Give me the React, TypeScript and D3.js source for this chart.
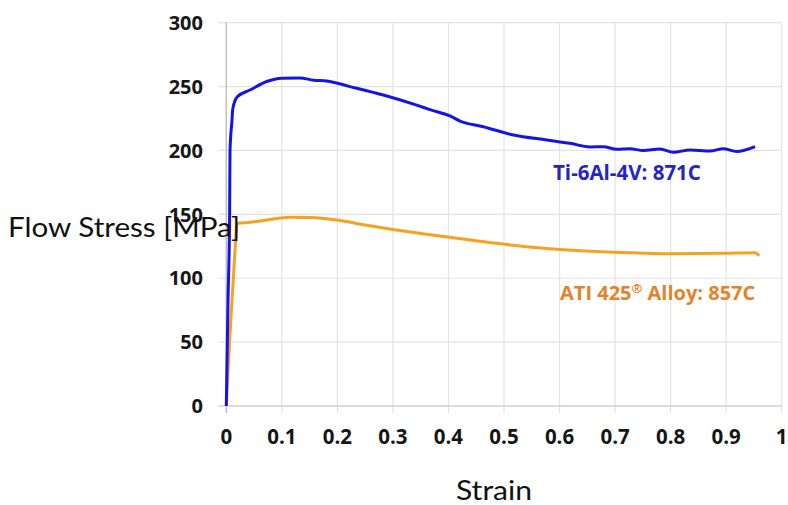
import * as d3 from "d3";
import { useEffect, useRef } from "react";

// Ti-6Al-4V: 871C (strain, stress MPa)
const tiStrain = [0, 0.003, 0.006, 0.0067, 0.0103, 0.0115, 0.0198, 0.0427, 0.0727, 0.0997, 0.1327, 0.157, 0.1807, 0.2227, 0.2827, 0.3428, 0.3667, 0.4028, 0.4208, 0.4628, 0.5168, 0.5769, 0.6188, 0.6548, 0.6788, 0.7029, 0.7269, 0.7508, 0.7809, 0.8048, 0.8349, 0.8709, 0.8949, 0.919, 0.952];
const tiStress = [0, 80, 151, 200, 224, 232, 242, 247.3, 254, 256.6, 256.8, 255, 254.4, 250, 243.4, 235.5, 232, 227, 223, 218.6, 212.1, 208.2, 205.6, 202.8, 203, 200.9, 201.4, 199.9, 201.1, 198.6, 200.4, 199.6, 201.4, 199.2, 203];

// ATI 425 Alloy: 857C
const atiStrain = [0, 0.0067, 0.0139, 0.0198, 0.0427, 0.0727, 0.1147, 0.1507, 0.1988, 0.2528, 0.3128, 0.3667, 0.4028, 0.4868, 0.5949, 0.6968, 0.7989, 0.8949, 0.952, 0.9597];
const atiStress = [0, 56.9, 109, 143, 143.8, 145.6, 147.7, 147.5, 145.6, 141.5, 137.3, 134, 132, 127.3, 122.6, 120.3, 119.2, 119.5, 120, 117.6];

const xTicks = [0, 0.1, 0.2, 0.3, 0.4, 0.5, 0.6, 0.7, 0.8, 0.9, 1];
const yTicks = [0, 50, 100, 150, 200, 250, 300];

const draw = (el: SVGSVGElement) => {
  const svg = d3.select(el);
  svg.selectAll("*").remove();

  let plot = { x1: 226.3, y1: 22.7, x2: 781.7, y2: 406 };
  let xScale = d3.scaleLinear().domain([0, 1]).range([plot.x1, plot.x2]);
  let yScale = d3.scaleLinear().domain([0, 300]).range([plot.y2, plot.y1]);

  const grid = svg.append("g");
  grid.selectAll("line.v").data(xTicks.slice(1)).enter().append("line")
    .attr("x1", d => xScale(d)).attr("x2", d => xScale(d))
    .attr("y1", plot.y1).attr("y2", plot.y2 + 7)
    .attr("stroke", "#e3e3e3").attr("stroke-width", 1.2);
  grid.selectAll("line.h").data(yTicks.slice(1)).enter().append("line")
    .attr("x1", plot.x1 - 8).attr("x2", plot.x2)
    .attr("y1", d => yScale(d)).attr("y2", d => yScale(d))
    .attr("stroke", "#e3e3e3").attr("stroke-width", 1.2);

  // axes
  svg.append("line").attr("x1", plot.x1).attr("x2", plot.x1).attr("y1", plot.y1).attr("y2", plot.y2 + 7)
    .attr("stroke", "#c0c0c0").attr("stroke-width", 1.5);
  svg.append("line").attr("x1", plot.x1 - 8).attr("x2", plot.x2).attr("y1", plot.y2).attr("y2", plot.y2)
    .attr("stroke", "#d0d0d0").attr("stroke-width", 1.5);

  const tickFont = "'Open Sans', sans-serif";
  svg.append("g").selectAll("text").data(yTicks).enter().append("text")
    .attr("x", 203).attr("y", d => yScale(d)).attr("dy", "0.36em")
    .attr("text-anchor", "end").attr("font-family", tickFont).attr("font-weight", 700)
    .attr("font-size", 20).attr("fill", "#161616")
    .text(d => d);
  svg.append("g").selectAll("text").data(xTicks).enter().append("text")
    .attr("x", d => xScale(d)).attr("y", 444)
    .attr("text-anchor", "middle").attr("font-family", tickFont).attr("font-weight", 700)
    .attr("font-size", 20.5).attr("fill", "#161616")
    .text(d => d);

  const line = d3.line<[number, number]>().x(d => xScale(d[0])).y(d => yScale(d[1])).curve(d3.curveMonotoneX);

  svg.append("path").datum(atiStrain.map((s, i) => [s, atiStress[i]] as [number, number]))
    .attr("d", line).attr("fill", "none").attr("stroke", "#f6a21e").attr("stroke-width", 3);
  svg.append("path").datum(tiStrain.map((s, i) => [s, tiStress[i]] as [number, number]))
    .attr("d", line)
    .attr("fill", "none").attr("stroke", "#1414e6").attr("stroke-width", 3);

  svg.append("text").attr("x", 553).attr("y", 180).attr("font-family", tickFont).attr("font-weight", 700)
    .attr("font-size", 20.5).attr("fill", "#2424c8").text("Ti-6Al-4V: 871C");
  const ati = svg.append("text").attr("x", 560).attr("y", 300).attr("font-family", tickFont).attr("font-weight", 700)
    .attr("font-size", 20).attr("fill", "#e3822a");
  ati.append("tspan").text("ATI 425");
  ati.append("tspan").attr("font-size", 13).attr("dy", -7).text("®");
  ati.append("tspan").attr("dy", 7).text(" Alloy: 857C");

  const titleFont = "Lato, sans-serif";
  svg.append("text").attr("x", 8).attr("y", 237).attr("font-family", titleFont)
    .attr("font-size", 27).attr("fill", "#111")
    .attr("textLength", 232).attr("lengthAdjust", "spacingAndGlyphs").text("Flow Stress [MPa]");
  svg.append("text").attr("x", 456).attr("y", 500).attr("font-family", titleFont)
    .attr("font-size", 26).attr("fill", "#111")
    .attr("textLength", 76).attr("lengthAdjust", "spacingAndGlyphs").text("Strain");
};

export default function App() {
  const ref = useRef<SVGSVGElement>(null);
  useEffect(() => {
    if (ref.current) draw(ref.current);
  }, []);
  return (
    <svg ref={ref} width={788} height={505}
      style={{ position: "absolute", left: 0, top: 0, background: "#fff" }} />
  );
}
